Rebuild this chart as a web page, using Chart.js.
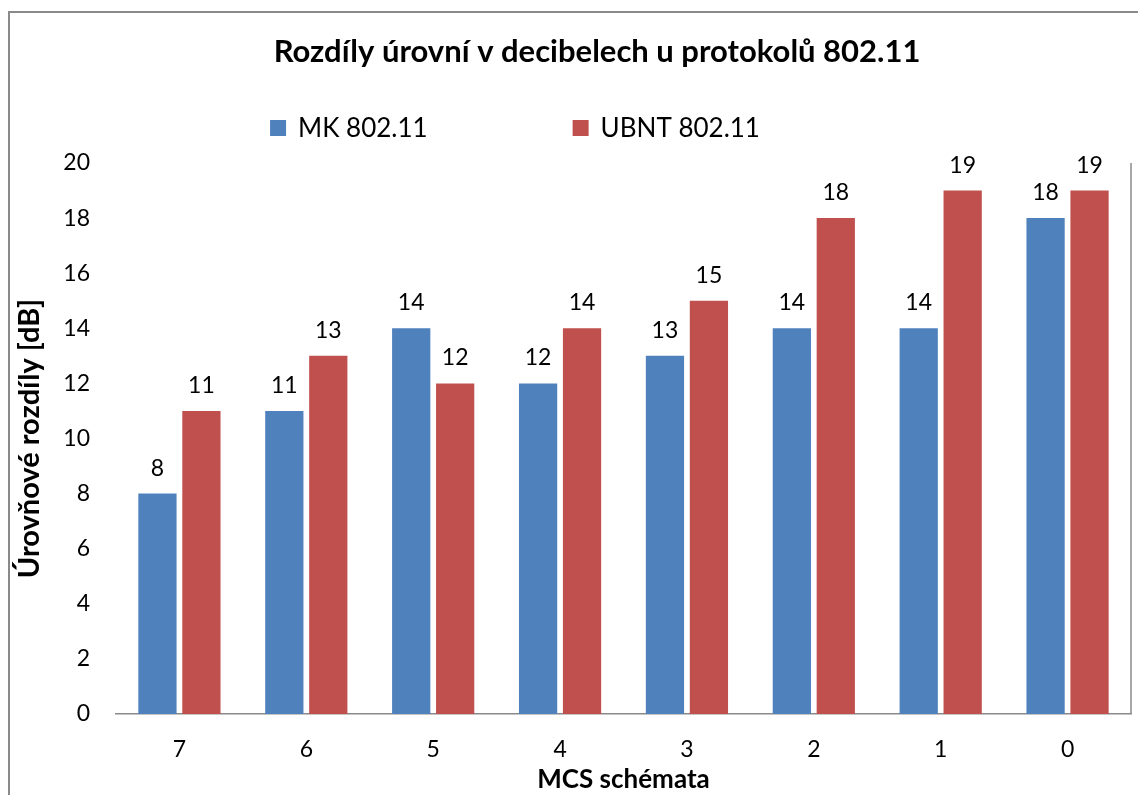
<!DOCTYPE html>
<html>
<head>
<meta charset="utf-8">
<script src="https://cdn.jsdelivr.net/npm/chart.js@4"></script>
<style>
  html, body { margin: 0; padding: 0; background: #fff; }
  #wrap { width: 1138px; height: 795px; }
</style>
</head>
<body>
<div id="wrap"><canvas id="urovneChart" width="1138" height="795"></canvas></div>
<script>
// data
const categories = ['7', '6', '5', '4', '3', '2', '1', '0'];
const mkValues = [8, 11, 14, 12, 13, 14, 14, 18];
const ubntValues = [11, 13, 12, 14, 15, 18, 19, 19];
const seriesNames = ['MK 802.11', 'UBNT 802.11'];
const chartTitle = 'Rozdíly úrovní v decibelech u protokolů 802.11';

const FONT = 'Lato, "Open Sans", sans-serif';
const FRAME = '#8a8a8a';

// frame around the chart + right edge of plot area
const framePlugin = {
  id: 'frame',
  afterDraw(chart) {
    const { ctx, chartArea } = chart;
    ctx.save();
    ctx.strokeStyle = FRAME;
    ctx.lineWidth = 2;
    ctx.beginPath();
    ctx.moveTo(9, 900);
    ctx.lineTo(9, 12);
    ctx.lineTo(1200, 12);
    ctx.stroke();
    ctx.lineWidth = 1.5;
    ctx.beginPath();
    ctx.moveTo(chartArea.right, chartArea.top);
    ctx.lineTo(chartArea.right, chartArea.bottom);
    ctx.stroke();
    ctx.restore();
  }
};

// title + legend drawn by hand (the original's title sits off-centre and the
// legend has a wide horizontal gap only)
const header = {
  id: 'header',
  afterDraw(chart, args, opts) {
    const { ctx } = chart;
    ctx.save();
    ctx.fillStyle = '#000';
    ctx.textBaseline = 'middle';
    ctx.textAlign = 'center';
    ctx.font = 'bold 31px ' + FONT;
    ctx.fillText(opts.title, opts.titleX, opts.titleY);

    ctx.textAlign = 'left';
    ctx.font = '26px ' + FONT;
    const items = chart.data.datasets.map(ds => ({
      text: ds.label, color: ds.backgroundColor, w: ctx.measureText(ds.label).width
    }));
    const box = 16, textGap = 12, itemGap = 145;
    let total = 0;
    items.forEach((it, i) => { total += box + textGap + it.w + (i ? itemGap : 0); });
    let x = opts.legendX - total / 2;
    items.forEach(it => {
      ctx.fillStyle = it.color;
      ctx.fillRect(x, opts.legendY - box / 2, box, box);
      ctx.fillStyle = '#000';
      ctx.fillText(it.text, x + box + textGap, opts.legendY + 1);
      x += box + textGap + it.w + itemGap;
    });
    ctx.restore();
  }
};

// value labels above bars
const valueLabels = {
  id: 'valueLabels',
  afterDatasetsDraw(chart) {
    const { ctx } = chart;
    ctx.save();
    ctx.font = '23px ' + FONT;
    ctx.fillStyle = '#000';
    ctx.textAlign = 'center';
    ctx.textBaseline = 'alphabetic';
    chart.data.datasets.forEach((ds, i) => {
      chart.getDatasetMeta(i).data.forEach((bar, j) => {
        ctx.fillText(ds.data[j], bar.x, bar.y - 18);
      });
    });
    ctx.restore();
  }
};

new Chart(document.getElementById('urovneChart'), {
  type: 'bar',
  data: {
    labels: categories,
    datasets: [
      { label: seriesNames[0], data: mkValues, backgroundColor: '#4f81bd' },
      { label: seriesNames[1], data: ubntValues, backgroundColor: '#c0504d' }
    ]
  },
  options: {
    responsive: false,
    animation: false,
    layout: { padding: { left: 12, right: 7, top: 163, bottom: 0 } },
    datasets: {
      bar: { categoryPercentage: 0.693, barPercentage: 0.87 }
    },
    scales: {
      x: {
        grid: { display: false, drawTicks: false },
        border: { display: true, color: FRAME, width: 1.5 },
        ticks: { color: '#000', font: { family: FONT, size: 23 }, padding: 22 },
        title: {
          display: true, text: 'MCS schémata', color: '#000',
          font: { family: FONT, size: 26, weight: 'bold' }, padding: 0
        },
        afterFit(scale) { scale.height = 81; }
      },
      y: {
        min: 0, max: 20,
        grid: { display: false, drawTicks: false },
        border: { display: false },
        ticks: { stepSize: 2, color: '#000', font: { family: FONT, size: 23 }, padding: 26 },
        title: {
          display: true, text: 'Úrovňové rozdíly [dB]', color: '#000',
          font: { family: FONT, size: 29, weight: 'bold' }, padding: 0
        },
        afterFit(scale) { scale.width = 104; }
      }
    },
    plugins: {
      title: { display: false },
      legend: { display: false },
      header: { title: chartTitle, titleX: 597, titleY: 52, legendX: 515, legendY: 128 },
      tooltip: { enabled: false }
    }
  },
  plugins: [framePlugin, header, valueLabels]
});
</script>
</body>
</html>
